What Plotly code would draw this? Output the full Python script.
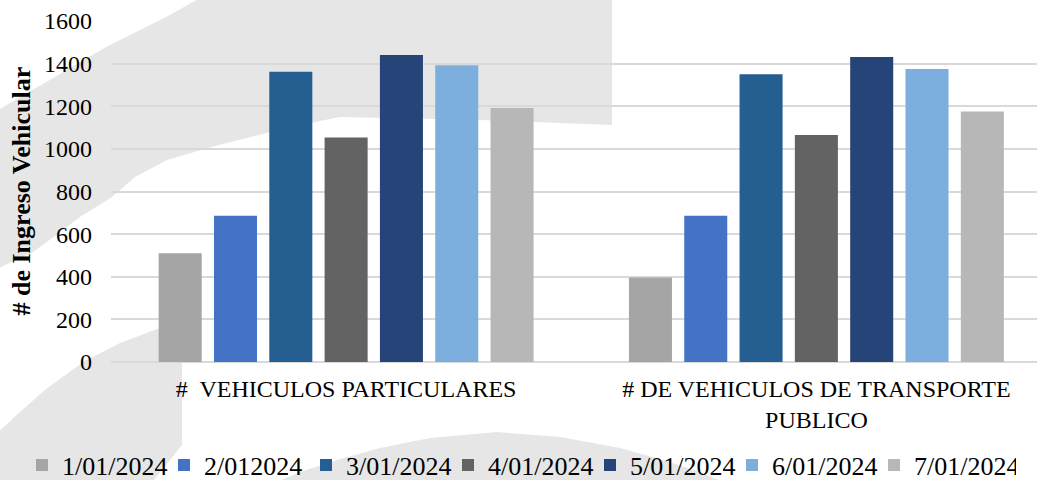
import plotly.graph_objects as go

categories = ["#&nbsp; VEHICULOS PARTICULARES", "# DE VEHICULOS DE TRANSPORTE<br>PUBLICO"]
series_names = ["1/01/2024", "2/012024", "3/01/2024", "4/01/2024", "5/01/2024", "6/01/2024", "7/01/2024"]
values_particulares = [510, 686, 1362, 1053, 1440, 1392, 1192]
values_publico = [396, 686, 1350, 1065, 1431, 1375, 1175]
series_colors = ["#a5a5a5", "#4472c4", "#255e91", "#636363", "#264478", "#7cafdd", "#b7b7b7"]
y_ticks = [0, 200, 400, 600, 800, 1000, 1200, 1400, 1600]

FONT = "Liberation Serif, Times New Roman, serif"

fig = go.Figure()
for i, name in enumerate(series_names):
    fig.add_trace(go.Bar(
        x=[0, 1],
        y=[values_particulares[i], values_publico[i]],
        name=name,
        marker=dict(color=series_colors[i], line=dict(width=0)),
    ))

# plot area in pixels (for watermark placement)
L, R, T, B = 111, 1037, 21, 362
def P(x, y):
    return ((x - L) / (R - L), (B - y) / (B - T))

def path(pts):
    s = ""
    for k, (x, y) in enumerate(pts):
        px, py = P(x, y)
        s += ("M" if k == 0 else "L") + f"{px:.4f},{py:.4f} "
    return s + "Z"

swoosh = [(-5, 112), (20, 97), (50, 80), (80, 62), (110, 45), (140, 30), (170, 15), (205, -5),
          (612, -5), (612, 125), (480, 120), (340, 117), (300, 125), (267, 133), (215, 146),
          (167, 160), (135, 177), (112, 197), (80, 217), (55, 236), (33, 252), (-5, 270)]
lower_left = [(-5, 435), (20, 412), (45, 390), (83, 362), (120, 343), (160, 328), (182, 322),
              (182, 445), (150, 485), (-5, 485)]
bottom_arc = [(270, 485), (300, 472), (337, 460), (380, 448), (430, 438), (497, 432), (560, 437),
              (620, 448), (663, 460), (700, 472), (730, 485)]

shapes = []
for pts in (swoosh, lower_left, bottom_arc):
    shapes.append(dict(type="path", xref="paper", yref="paper", path=path(pts),
                       fillcolor="#e6e6e6", line=dict(width=0), layer="below"))

fig.update_layout(
    width=1037, height=480,
    margin=dict(l=L, r=0, t=T, b=480 - B, autoexpand=False),
    paper_bgcolor="white",
    plot_bgcolor="rgba(0,0,0,0)",
    barmode="group",
    bargap=0.1766,
    bargroupgap=0.222,
    font=dict(family=FONT, color="black", size=24),
    shapes=shapes,
    showlegend=True,
    legend=dict(orientation="h", x=(22 - L) / (R - L), xanchor="left",
                y=(B - 465) / (B - T), yanchor="middle",
                font=dict(size=26, family=FONT), entrywidth=97,
                bgcolor="rgba(0,0,0,0)", traceorder="normal"),
    xaxis=dict(tickmode="array", tickvals=[0, 1], ticktext=categories,
               range=[-0.5, (R - 346.5) / 470], showgrid=False, zeroline=False,
               tickfont=dict(size=24), ticks="", ticklabelstandoff=10, fixedrange=True,
               automargin=False),
    yaxis=dict(range=[0, 1600], tickvals=y_ticks, showgrid=True, gridcolor="#d9d9d9",
               gridwidth=1.6, zeroline=True, zerolinecolor="#d9d9d9", zerolinewidth=1.6,
               tickfont=dict(size=24), ticks="", ticklabelstandoff=18, automargin=False,
               fixedrange=True),
    annotations=[dict(text="<b># de Ingreso Vehicular</b>", textangle=-90,
                      xref="paper", yref="paper", x=P(21, 0)[0], y=P(0, 191.5)[1],
                      xanchor="center", yanchor="middle", showarrow=False,
                      font=dict(size=26, family=FONT, color="black"))],
)

fig.write_html("out.html", config={"displayModeBar": False},
               post_script="document.body.style.margin='0';document.body.style.overflow='hidden';")
